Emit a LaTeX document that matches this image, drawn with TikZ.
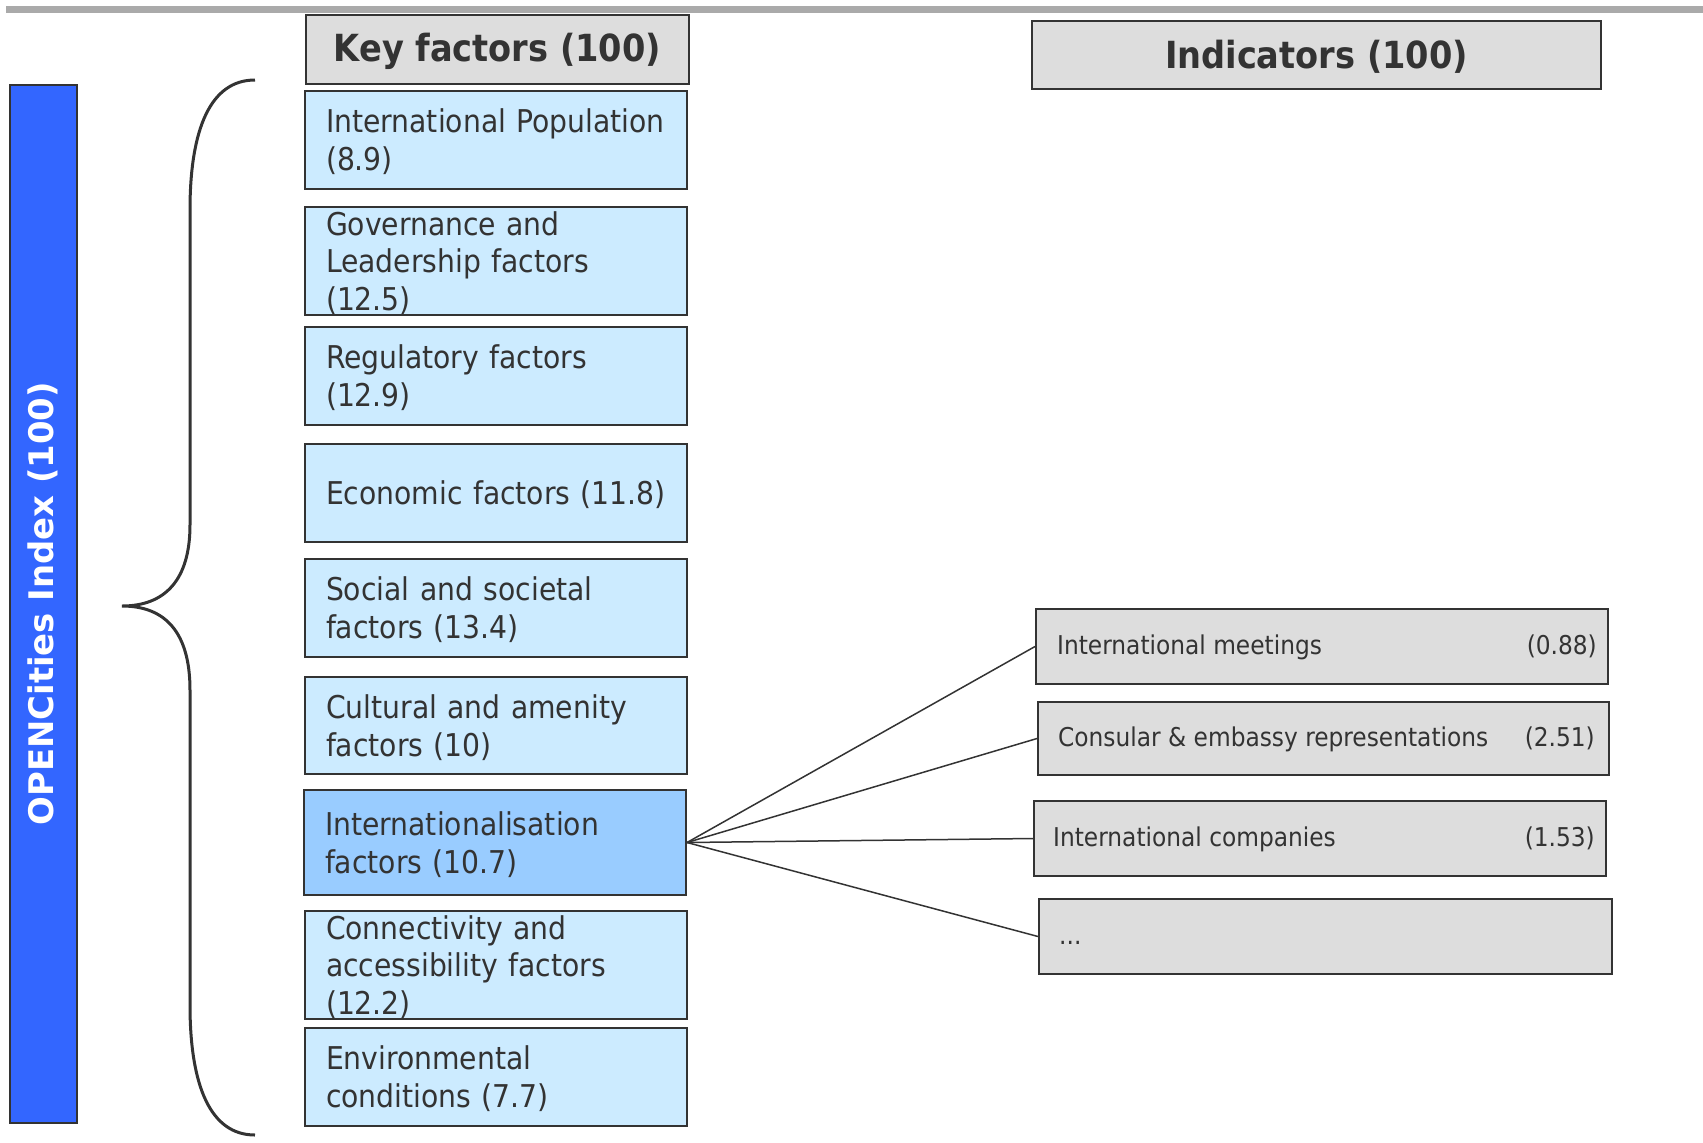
\documentclass[tikz,border=0pt]{standalone}
\usepackage{fontspec}
\setmainfont{DejaVu Sans Condensed}
\newfontfamily\widefont{DejaVu Sans}
\definecolor{edge}{HTML}{333333}
\definecolor{txt}{HTML}{333333}
\definecolor{kfill}{HTML}{CCEBFF}
\definecolor{kact}{HTML}{99CCFF}
\definecolor{hgray}{HTML}{DDDDDD}
\definecolor{barblue}{HTML}{3366FF}
\definecolor{topline}{HTML}{AAAAAA}
\begin{document}
\begin{tikzpicture}[x=1bp,y=-1bp,
  box/.style={draw=edge, line width=2bp, inner sep=0pt, anchor=north west},
  kbox/.style={box, fill=kfill, minimum width=382bp},
  hbox/.style={box, fill=hgray},
  ibox/.style={box, fill=hgray, line width=2bp},
  ktext/.style={text=txt, text width=340bp, align=left, inner sep=0pt, yshift=-2bp, font=\fontsize{31.5}{38}\selectfont},
  htext/.style={text=txt, inner sep=0pt, yshift=-2bp, font=\bfseries\fontsize{37.5}{44}\selectfont},
  itext/.style={text=txt, inner sep=0pt, text height=0.75em, text depth=0.25em, yshift=-5bp, font=\fontsize{26}{31}\selectfont},
  conn/.style={draw=edge, line width=1.5bp},
  bracestyle/.style={draw=edge, line width=3bp}]
\useasboundingbox (0,0) rectangle (1703,1142);
% top rule
\draw[line width=7bp, topline] (6,9) -- (1703,9);
% left bar
\node[draw=edge, fill=barblue, line width=1.5bp, minimum width=67bp, minimum height=1038bp, anchor=north west, inner sep=0pt] (bar) at (9,84) {};
\node[rotate=90, text=white, inner sep=0pt, font=\widefont\bfseries\fontsize{34}{40}\selectfont] (bartext) at (bar.center) {OPENCities Index (100)};
% brace
\draw[bracestyle] (255,80) .. controls (210,80) and (190,130) .. (190,210) -- (190,525)
  .. controls (190,580) and (165,606) .. (122,606)
  .. controls (165,606) and (190,632) .. (190,690) -- (190,1005)
  .. controls (190,1085) and (210,1135) .. (255,1135);
% headers
\node[hbox, minimum width=383bp, minimum height=69bp] (kh) at (305,14) {};
\node[htext] (khtext) at (kh.center) {Key factors (100)};
\node[hbox, minimum width=569bp, minimum height=68bp] (ih) at (1031,20) {};
\node[htext] (ihtext) at (ih.center) {Indicators (100)};
% key factors
\node[kbox, minimum height=98bp] (k1) at (304,90) {};
\node[ktext] at (k1.center) {International Population\\(8.9)};
\node[kbox, minimum height=108bp] (k2) at (304,206) {};
\node[ktext] at (k2.center) {Governance and\\Leadership factors\\(12.5)};
\node[kbox, minimum height=98bp] (k3) at (304,326) {};
\node[ktext] at (k3.center) {Regulatory factors\\(12.9)};
\node[kbox, minimum height=98bp] (k4) at (304,443) {};
\node[ktext] at (k4.center) {Economic factors (11.8)};
\node[kbox, minimum height=98bp] (k5) at (304,558) {};
\node[ktext] at (k5.center) {Social and societal\\factors (13.4)};
\node[kbox, minimum height=97bp] (k6) at (304,676) {};
\node[ktext] at (k6.center) {Cultural and amenity\\factors (10)};
\node[kbox, fill=kact, minimum height=105bp] (k7) at (303,789) {};
\node[ktext] at (k7.center) {Internationalisation\\factors (10.7)};
\node[kbox, minimum height=108bp] (k8) at (304,910) {};
\node[ktext] at (k8.center) {Connectivity and\\accessibility factors\\(12.2)};
\node[kbox, minimum height=98bp] (k9) at (304,1027) {};
\node[ktext] at (k9.center) {Environmental\\conditions (7.7)};
% indicators
\node[ibox, minimum width=572bp, minimum height=75bp] (ia) at (1035,608) {};
\node[itext, anchor=west] at ([xshift=22bp]ia.west) {International meetings};
\node[itext, anchor=east] at ([xshift=-12bp]ia.east) {(0.88)};
\node[ibox, minimum width=571bp, minimum height=73bp] (ib) at (1037,701) {};
\node[itext, anchor=west] at ([xshift=21bp]ib.west) {Consular \& embassy representations};
\node[itext, anchor=east] at ([xshift=-15bp]ib.east) {(2.51)};
\node[ibox, minimum width=572bp, minimum height=75bp] (ic) at (1033,800) {};
\node[itext, anchor=west] at ([xshift=20bp]ic.west) {International companies};
\node[itext, anchor=east] at ([xshift=-12bp]ic.east) {(1.53)};
\node[ibox, minimum width=573bp, minimum height=75bp] (id) at (1038,898) {};
\node[itext, anchor=west] at ([xshift=21bp]id.west) {...};
% connectors
\draw[conn] (k7.east) -- (ia.west);
\draw[conn] (k7.east) -- (ib.west);
\draw[conn] (k7.east) -- (ic.west);
\draw[conn] (k7.east) -- (id.west);
\end{tikzpicture}
\end{document}
